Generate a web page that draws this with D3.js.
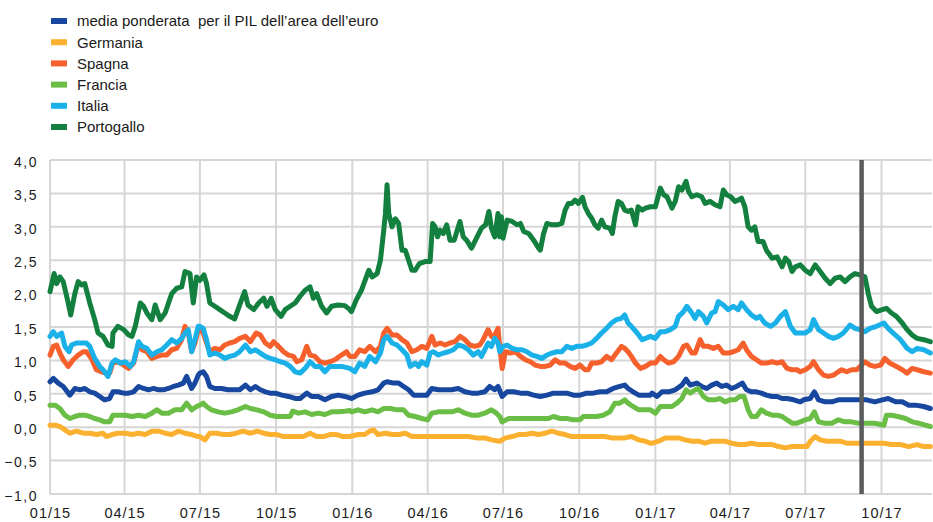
<!DOCTYPE html>
<html lang="it">
<head>
    <meta charset="UTF-8">
    <title>Spread dei titoli di Stato decennali</title>
    <script src="https://d3js.org/d3.v7.min.js"></script>
    <style>
        body { margin: 0; background: #fff; }
        svg text { font-family: "Liberation Sans", Arial, sans-serif; fill: #1a1a1a; }
    </style>
</head>
<body>
    <div id="chart"></div>

    <script>
        // days are counted from 1 Jan 2015
        const startDate = new Date(2015, 0, 1);
        const endDate = new Date(2017, 11, 1);
        const markerDate = new Date(2017, 8, 7);

        const seriesNames = [
            "media ponderata  per il PIL dell\u2019area dell\u2019euro",
            "Germania", "Spagna", "Francia", "Italia", "Portogallo"
        ];
        const seriesColors = ["#17479e", "#fbb12f", "#f6602d", "#6abd45", "#1ab0e8", "#148040"];

        const yTicks = [-1, -0.5, 0, 0.5, 1, 1.5, 2, 2.5, 3, 3.5, 4];
        const xTicks = ["2015-01", "2015-04", "2015-07", "2015-10", "2016-01", "2016-04",
                        "2016-07", "2016-10", "2017-01", "2017-04", "2017-07", "2017-10"];

        const media = [[0,0.68],[4,0.73],[10,0.66],[16,0.61],[24,0.48],[30,0.58],[36,0.56],[42,0.58],[48,0.53],[54,0.51],[60,0.46],[66,0.41],[72,0.43],[76,0.53],[82,0.53],[89,0.51],[95,0.51],[101,0.53],[107,0.61],[113,0.58],[119,0.56],[125,0.58],[131,0.56],[137,0.56],[143,0.58],[149,0.61],[155,0.63],[161,0.66],[165,0.76],[171,0.58],[175,0.66],[179,0.78],
            [181,0.81],[185,0.83],[189,0.76],[193,0.61],[199,0.58],[207,0.58],[215,0.56],[223,0.56],[229,0.56],[236,0.63],[242,0.56],[248,0.61],[254,0.56],[260,0.53],[266,0.51],[272,0.51],[280,0.48],[288,0.46],[296,0.43],[302,0.43],[310,0.51],[316,0.46],[324,0.46],[332,0.41],[340,0.46],[348,0.48],[356,0.46],
            [364,0.43],[372,0.48],[380,0.51],[389,0.53],[396,0.56],[403,0.66],[407,0.68],[415,0.66],[421,0.66],[427,0.61],[433,0.56],[439,0.48],[447,0.48],[455,0.48],[461,0.58],[469,0.56],[477,0.56],[485,0.56],[493,0.58],[501,0.53],[509,0.51],[517,0.51],[525,0.53],[531,0.61],[537,0.56],[541,0.61],
            [546,0.46],[552,0.53],[560,0.53],[568,0.51],[576,0.51],[584,0.48],[592,0.46],[600,0.48],[608,0.51],[616,0.51],[624,0.51],[632,0.48],[640,0.48],[648,0.51],[656,0.51],[664,0.53],[672,0.53],[680,0.58],[688,0.61],[694,0.63],[698,0.58],[704,0.53],[711,0.48],[719,0.48],[725,0.48],
            [727,0.51],[733,0.46],[739,0.53],[747,0.53],[755,0.56],[763,0.63],[768,0.72],[773,0.63],[781,0.66],[787,0.61],[793,0.58],[799,0.63],[805,0.66],[811,0.61],[817,0.63],[823,0.58],[829,0.61],[836,0.66],[841,0.56],[847,0.53],[853,0.53],[859,0.51],[865,0.48],[872,0.46],[878,0.46],[884,0.43],[890,0.43],[898,0.41],[906,0.38],
            [910,0.41],[918,0.43],[923,0.53],[928,0.41],[936,0.38],[944,0.38],[952,0.41],[960,0.41],[968,0.41],[976,0.41],[986,0.41],[996,0.38],[1005,0.41],[1012,0.43],[1021,0.38],[1029,0.38],[1037,0.33],[1045,0.33],[1055,0.31],[1063,0.28]];

        const germania = [[0,0.03],[6,0.03],[12,0.01],[18,-0.04],[24,-0.09],[32,-0.06],[40,-0.09],[48,-0.09],[56,-0.11],[64,-0.09],[68,-0.14],[75,-0.11],[82,-0.09],[91,-0.09],[99,-0.11],[107,-0.09],[115,-0.11],[123,-0.06],[131,-0.06],[139,-0.09],[147,-0.11],[155,-0.06],[163,-0.09],[171,-0.11],[179,-0.14],
            [181,-0.14],[187,-0.19],[193,-0.09],[201,-0.09],[209,-0.11],[217,-0.11],[225,-0.09],[233,-0.06],[242,-0.09],[250,-0.06],[258,-0.09],[266,-0.11],[274,-0.11],[282,-0.14],[290,-0.14],[298,-0.14],[306,-0.14],[314,-0.09],[322,-0.14],[330,-0.14],[338,-0.11],[346,-0.11],[354,-0.14],[362,-0.14],
            [372,-0.11],[380,-0.11],[386,-0.06],[391,-0.04],[396,-0.11],[405,-0.09],[413,-0.11],[421,-0.11],[429,-0.09],[437,-0.14],[445,-0.14],[455,-0.14],[465,-0.14],[475,-0.14],[485,-0.14],[495,-0.14],[505,-0.14],[515,-0.16],[525,-0.16],[533,-0.19],[543,-0.21],
            [550,-0.16],[558,-0.14],[566,-0.11],[574,-0.11],[582,-0.09],[590,-0.11],[598,-0.09],[606,-0.06],[614,-0.09],[622,-0.11],[630,-0.14],[638,-0.14],[646,-0.14],[654,-0.14],[662,-0.14],[670,-0.14],[678,-0.16],[686,-0.16],[694,-0.16],[702,-0.14],[711,-0.19],[719,-0.21],[725,-0.24],
            [727,-0.24],[735,-0.21],[743,-0.16],[751,-0.16],[759,-0.16],[767,-0.19],[775,-0.21],[783,-0.21],[791,-0.24],[799,-0.21],[807,-0.21],[815,-0.21],[823,-0.24],[831,-0.26],[839,-0.26],[847,-0.24],[855,-0.26],[863,-0.26],[872,-0.26],[880,-0.29],[888,-0.31],[896,-0.29],[906,-0.29],
            [914,-0.29],[918,-0.21],[924,-0.14],[930,-0.19],[938,-0.21],[946,-0.21],[954,-0.21],[962,-0.24],[970,-0.24],[978,-0.24],[986,-0.24],[996,-0.24],[1007,-0.24],[1016,-0.26],[1027,-0.26],[1037,-0.29],[1047,-0.26],[1055,-0.29],[1063,-0.29]];

        const spagna = [[0,1.08],[4,1.21],[8,1.23],[12,1.11],[16,1.01],[22,0.91],[28,1.01],[34,1.08],[40,1.13],[44,1.13],[50,1.03],[56,0.86],[62,0.83],[68,0.81],[72,0.81],[76,0.96],[82,0.98],[89,0.93],[95,0.88],[101,0.96],[107,1.26],[111,1.16],[117,1.13],[123,1.03],[129,1.06],[135,1.08],[141,1.08],[147,1.16],[153,1.18],[159,1.31],[163,1.51],[167,1.41],[171,1.13],[175,1.26],[179,1.46],
            [181,1.46],[185,1.41],[189,1.26],[193,1.13],[199,1.18],[205,1.16],[211,1.23],[217,1.26],[223,1.28],[229,1.33],[236,1.36],[242,1.28],[249,1.41],[254,1.38],[260,1.26],[266,1.21],[270,1.28],[276,1.21],[282,1.13],[288,1.08],[294,1.06],[298,0.98],[304,1.01],[310,1.21],[314,1.08],[320,1.06],[326,0.98],[332,0.96],[338,0.98],[344,1.01],[352,1.08],[358,1.13],[362,1.06],
            [368,1.06],[374,1.16],[380,1.13],[386,1.21],[393,1.13],[399,1.21],[403,1.41],[407,1.48],[413,1.38],[419,1.38],[425,1.31],[431,1.26],[437,1.13],[443,1.16],[449,1.21],[455,1.18],[461,1.36],[465,1.23],[471,1.26],[477,1.23],[483,1.26],[489,1.28],[495,1.36],[501,1.31],[507,1.23],[513,1.21],[519,1.23],[523,1.31],[529,1.46],[533,1.36],[537,1.38],[541,1.48],
            [543,1.21],[546,0.88],[550,1.13],[556,1.11],[562,1.13],[568,1.06],[574,1.01],[580,0.98],[586,0.93],[592,0.91],[598,0.91],[604,0.93],[610,1.01],[616,0.96],[622,0.96],[628,0.91],[634,0.88],[640,0.93],[646,0.86],[650,0.86],[654,0.96],[660,0.96],[666,0.98],[672,1.06],[678,1.01],[684,1.11],[690,1.21],[694,1.18],[698,1.13],[702,1.06],[707,0.96],[713,0.88],[719,0.91],[725,0.96],
            [731,0.96],[737,1.06],[741,1.01],[747,0.96],[753,0.98],[759,1.06],[765,1.21],[769,1.23],[775,1.11],[779,1.11],[785,1.31],[789,1.21],[795,1.21],[801,1.18],[807,1.21],[813,1.11],[819,1.11],[825,1.13],[831,1.16],[837,1.26],[841,1.16],[847,1.06],[853,1.01],[859,0.96],[865,0.96],[872,0.98],[878,0.96],[884,0.98],[890,0.88],[896,0.86],[902,0.86],[906,0.83],
            [912,0.86],[918,0.91],[922,0.98],[928,0.86],[934,0.78],[940,0.76],[946,0.78],[952,0.83],[956,0.86],[962,0.83],[968,0.86],[974,0.86],[984,0.98],[990,0.93],[996,0.91],[1003,0.93],[1008,1.03],[1014,0.96],[1022,0.91],[1029,0.86],[1035,0.81],[1041,0.88],[1047,0.86],[1055,0.83],[1063,0.81]];

        const francia = [[0,0.33],[6,0.33],[12,0.28],[18,0.18],[24,0.13],[30,0.16],[36,0.18],[42,0.18],[48,0.16],[54,0.13],[60,0.11],[66,0.08],[72,0.08],[76,0.18],[82,0.18],[91,0.18],[99,0.16],[107,0.18],[115,0.16],[123,0.21],[129,0.26],[135,0.21],[143,0.21],[151,0.26],[159,0.26],[165,0.36],[171,0.26],[177,0.31],
            [181,0.33],[185,0.36],[189,0.31],[195,0.26],[203,0.23],[211,0.21],[219,0.23],[227,0.26],[236,0.31],[242,0.28],[250,0.26],[258,0.23],[266,0.18],[274,0.16],[282,0.16],[290,0.16],[293,0.24],[300,0.21],[308,0.23],[316,0.19],[324,0.21],[332,0.19],[340,0.23],[348,0.23],[356,0.24],[362,0.25],
            [364,0.23],[372,0.26],[380,0.23],[389,0.26],[396,0.23],[403,0.28],[411,0.28],[419,0.26],[427,0.26],[433,0.18],[441,0.16],[449,0.13],[456,0.11],[461,0.21],[469,0.23],[477,0.23],[485,0.23],[493,0.26],[501,0.21],[509,0.18],[517,0.18],[525,0.21],[533,0.26],[539,0.21],[543,0.16],
            [546,0.08],[554,0.13],[562,0.13],[570,0.13],[578,0.13],[586,0.13],[594,0.13],[602,0.13],[608,0.16],[616,0.13],[624,0.13],[632,0.11],[640,0.11],[644,0.16],[652,0.16],[660,0.16],[668,0.18],[676,0.23],[682,0.36],[688,0.36],[694,0.41],[698,0.36],[704,0.31],[711,0.26],[719,0.26],[725,0.26],
            [731,0.21],[737,0.31],[743,0.31],[751,0.31],[757,0.36],[763,0.43],[768,0.56],[773,0.51],[779,0.56],[783,0.58],[789,0.46],[795,0.41],[803,0.41],[809,0.43],[815,0.38],[821,0.41],[827,0.41],[833,0.46],[838,0.46],[843,0.26],[847,0.16],[853,0.16],[859,0.26],[865,0.21],[872,0.18],[878,0.18],[884,0.16],[890,0.11],[896,0.06],[902,0.06],[906,0.08],
            [912,0.11],[918,0.13],[923,0.23],[928,0.08],[936,0.06],[944,0.06],[952,0.11],[960,0.08],[968,0.08],[976,0.06],[986,0.06],[996,0.06],[1007,0.03],[1010,0.18],[1016,0.18],[1024,0.16],[1033,0.13],[1041,0.08],[1049,0.06],[1057,0.03],[1063,0.01]];

        const italia = [[0,1.36],[4,1.43],[8,1.36],[14,1.41],[18,1.21],[23,1.13],[26,1.23],[32,1.26],[38,1.26],[44,1.26],[48,1.21],[54,1.03],[60,0.91],[64,0.86],[70,0.76],[75,0.96],[79,1.01],[85,0.96],[91,0.98],[97,0.91],[101,0.98],[107,1.28],[111,1.21],[117,1.18],[123,1.08],[129,1.13],[135,1.16],[141,1.23],[147,1.31],[153,1.26],[159,1.33],[163,1.41],[167,1.46],[171,1.13],[175,1.31],[179,1.51],
            [181,1.51],[185,1.48],[189,1.31],[193,1.08],[199,1.11],[205,1.08],[211,1.03],[217,1.06],[223,1.08],[229,1.13],[236,1.23],[242,1.13],[248,1.16],[254,1.11],[260,1.06],[266,1.03],[272,1.01],[278,0.98],[284,0.96],[290,0.91],[296,0.83],[302,0.81],[308,0.88],[314,0.98],[320,0.91],[326,0.91],[332,0.83],[338,0.91],[344,0.91],[352,0.91],[362,0.88],
            [368,0.83],[374,0.96],[380,0.91],[386,1.06],[393,0.98],[399,1.11],[403,1.31],[407,1.36],[413,1.26],[419,1.23],[425,1.16],[431,1.08],[435,0.91],[441,0.96],[445,0.91],[449,0.98],[455,0.93],[459,1.11],[463,1.13],[469,1.08],[475,1.11],[481,1.13],[487,1.16],[493,1.23],[499,1.21],[505,1.16],[511,1.08],[517,1.13],[521,1.06],[525,1.16],[529,1.26],[533,1.21],[537,1.33],[541,1.26],
            [543,1.13],[547,1.21],[552,1.23],[558,1.18],[564,1.16],[570,1.16],[576,1.13],[582,1.08],[588,1.06],[594,1.03],[600,1.08],[606,1.11],[612,1.13],[618,1.13],[624,1.21],[630,1.18],[636,1.21],[642,1.21],[648,1.23],[654,1.26],[660,1.33],[666,1.41],[672,1.48],[678,1.56],[684,1.61],[690,1.63],[694,1.68],[698,1.56],[702,1.51],[709,1.41],[715,1.31],[719,1.33],[725,1.36],
            [731,1.33],[737,1.43],[743,1.43],[749,1.46],[755,1.51],[759,1.66],[765,1.73],[769,1.81],[775,1.71],[779,1.63],[783,1.73],[789,1.66],[793,1.56],[799,1.71],[803,1.73],[807,1.88],[813,1.83],[819,1.76],[825,1.81],[831,1.76],[835,1.86],[841,1.76],[847,1.68],[853,1.63],[857,1.66],[863,1.56],[870,1.51],[876,1.56],[882,1.66],[888,1.73],[894,1.51],[900,1.41],[906,1.41],
            [912,1.41],[918,1.46],[922,1.61],[928,1.46],[934,1.41],[940,1.36],[946,1.33],[952,1.36],[958,1.41],[966,1.53],[972,1.48],[978,1.46],[984,1.43],[990,1.48],[998,1.51],[1007,1.56],[1012,1.48],[1018,1.41],[1027,1.31],[1035,1.18],[1041,1.13],[1047,1.18],[1055,1.16],[1063,1.11]];

        const portogallo = [[0,2.03],[5,2.30],[8,2.15],[12,2.25],[16,2.18],[22,1.86],[25,1.68],[30,2.00],[34,2.18],[38,2.13],[42,2.15],[48,1.86],[54,1.61],[58,1.41],[64,1.36],[70,1.23],[75,1.21],[76,1.41],[82,1.51],[89,1.46],[95,1.38],[99,1.36],[103,1.51],[109,1.86],[113,1.81],[117,1.71],[123,1.61],[127,1.83],[133,1.61],[139,1.71],[147,2.00],[153,2.08],[159,2.10],[163,2.33],[169,2.30],[173,1.86],[177,2.25],
            [181,2.20],[186,2.28],[189,2.15],[193,1.86],[199,1.81],[205,1.76],[211,1.71],[217,1.66],[223,1.62],[227,1.76],[235,2.03],[239,1.83],[246,1.76],[252,1.86],[258,1.93],[262,1.81],[267,1.93],[272,1.76],[279,1.66],[284,1.76],[290,1.81],[296,1.86],[302,1.96],[308,2.05],[314,2.10],[318,1.93],[322,2.00],[328,1.81],[334,1.71],[340,1.81],[348,1.83],[356,1.82],[362,1.76],[364,1.73],
            [370,1.91],[376,2.05],[382,2.25],[385,2.35],[389,2.25],[395,2.30],[399,2.50],[403,2.95],[405,3.20],[407,3.63],[409,3.20],[413,3.00],[417,3.12],[421,3.05],[425,2.65],[429,2.65],[433,2.50],[437,2.35],[441,2.35],[446,2.45],[453,2.48],[459,2.48],[462,3.05],[465,3.00],[468,2.85],[471,2.95],[475,2.90],[479,3.03],[483,2.80],[488,2.80],[495,3.08],[499,2.85],[503,2.80],[509,2.68],[515,2.83],[521,2.98],[526,3.03],[530,3.23],[533,2.98],[537,2.85],[541,3.20],
            [543,2.85],[545,3.15],[547,2.83],[552,3.10],[558,3.08],[564,3.03],[568,3.05],[572,2.93],[578,2.90],[584,2.80],[590,2.68],[592,2.65],[596,2.90],[600,3.05],[606,3.03],[612,3.03],[618,3.05],[622,3.25],[626,3.35],[630,3.35],[634,3.40],[638,3.35],[643,3.44],[646,3.30],[650,3.20],[654,3.13],[658,3.03],[662,2.98],[666,3.10],[670,3.00],[676,2.98],[679,2.90],[682,3.15],[686,3.38],[690,3.35],[694,3.25],[698,3.23],[702,3.25],[707,3.03],[710,3.30],[715,3.25],[719,3.28],[725,3.30],
            [731,3.30],[737,3.58],[741,3.48],[745,3.45],[751,3.28],[755,3.38],[759,3.60],[763,3.55],[768,3.68],[771,3.53],[775,3.45],[781,3.48],[787,3.45],[791,3.35],[797,3.38],[803,3.33],[809,3.30],[813,3.55],[817,3.48],[822,3.45],[827,3.38],[831,3.40],[835,3.43],[839,3.30],[843,3.00],[847,2.95],[851,3.00],[855,2.78],[861,2.78],[865,2.65],[872,2.53],[878,2.55],[884,2.40],[888,2.53],[892,2.48],[896,2.33],[900,2.40],[906,2.43],
            [912,2.35],[918,2.30],[924,2.43],[930,2.33],[936,2.23],[942,2.15],[948,2.23],[954,2.25],[960,2.18],[966,2.25],[972,2.30],[978,2.28],[984,2.25],[988,2.00],[992,1.81],[998,1.73],[1005,1.76],[1010,1.78],[1016,1.71],[1022,1.66],[1029,1.56],[1035,1.46],[1041,1.38],[1047,1.33],[1055,1.31],[1063,1.28]];

        const seriesValues = [media, germania, spagna, francia, italia, portogallo];

        const width = 933, height = 522;
        const margin = { top: 160, right: 1, bottom: 28, left: 50 };
        const plotW = width - margin.left - margin.right;
        const plotH = height - margin.top - margin.bottom;

        const svg = d3.select("#chart")
            .append("svg")
            .attr("width", width)
            .attr("height", height);

        const x = d3.scaleTime()
            .domain([startDate, endDate])
            .range([0, plotW]);

        const y = d3.scaleLinear()
            .domain([-1, 4])
            .range([plotH, 0]);

        const itFormat = d3.formatLocale({ decimal: ",", thousands: ".", grouping: [3], currency: ["", "\u20ac"] }).format(".1f");
        const parseMonth = d3.timeParse("%Y-%m");
        const xTickDates = xTicks.map(parseMonth);

        const g = svg.append("g")
            .attr("transform", `translate(${margin.left},${margin.top})`);

        // grid
        g.append("g")
            .selectAll("line.h")
            .data(yTicks)
            .enter().append("line")
            .attr("x1", 0)
            .attr("x2", plotW)
            .attr("y1", d => y(d))
            .attr("y2", d => y(d))
            .attr("stroke", "#d6d6d6")
            .attr("stroke-width", 2);

        g.append("g")
            .selectAll("line.v")
            .data(xTickDates)
            .enter().append("line")
            .attr("x1", d => x(d))
            .attr("x2", d => x(d))
            .attr("y1", 0)
            .attr("y2", plotH)
            .attr("stroke", "#d6d6d6")
            .attr("stroke-width", 2);

        // axes labels
        const yAxis = g.append("g")
            .call(d3.axisLeft(y).tickValues(yTicks).tickSize(0).tickPadding(12).tickFormat(itFormat));
        yAxis.select(".domain").remove();
        yAxis.selectAll("text")
            .attr("dy", "0.45em")
            .style("font-size", "14px")
            .style("letter-spacing", "1.5px");

        const xAxis = g.append("g")
            .attr("transform", `translate(0,${plotH})`)
            .call(d3.axisBottom(x).tickValues(xTickDates).tickSize(0).tickPadding(14).tickFormat(d3.timeFormat("%m/%y")));
        xAxis.select(".domain").remove();
        xAxis.selectAll("text")
            .style("font-size", "14.5px")
            .style("letter-spacing", "1px");

        // series
        const line = d3.line()
            .x(d => x(d3.timeDay.offset(startDate, d[0])))
            .y(d => y(d[1]));

        g.append("g")
            .selectAll("path")
            .data(seriesValues)
            .enter().append("path")
            .attr("d", line)
            .attr("fill", "none")
            .attr("stroke", (d, i) => seriesColors[i])
            .attr("stroke-width", 5)
            .attr("stroke-linejoin", "round")
            .attr("stroke-linecap", "round");

        // vertical marker
        g.append("line")
            .attr("x1", x(markerDate))
            .attr("x2", x(markerDate))
            .attr("y1", 0)
            .attr("y2", plotH)
            .attr("stroke", "#595b5c")
            .attr("stroke-width", 4.5);

        // legend
        const legend = svg.append("g")
            .selectAll("g")
            .data(seriesNames)
            .enter().append("g")
            .attr("transform", (d, i) => `translate(51,${21 + i * 21.2})`);

        legend.append("rect")
            .attr("x", 0)
            .attr("y", -3)
            .attr("width", 16)
            .attr("height", 6)
            .attr("fill", (d, i) => seriesColors[i]);

        legend.append("text")
            .attr("x", 26)
            .attr("dy", "0.36em")
            .style("font-size", "15px")
            .style("white-space", "pre")
            .text(d => d);
    </script>
</body>
</html>
